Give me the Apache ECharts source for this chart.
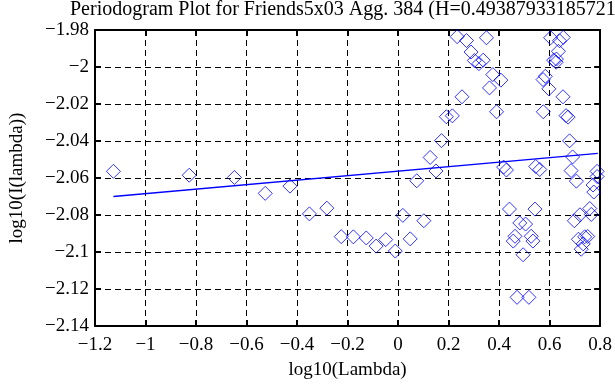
<!DOCTYPE html>
<html><head><meta charset="utf-8">
<script src="https://cdn.jsdelivr.net/npm/echarts@6/dist/echarts.min.js"></script>
<style>html,body{margin:0;padding:0;background:#fff}#c{width:615px;height:385px}</style>
</head><body><div id="c"></div>
<script>
const titleText = "Periodogram Plot for Friends5x03 Agg. 384 (H=0.493879331857214)";
const xName = "log10(Lambda)";
const yName = "log10(I(lambda))";
const xMin = -1.2, xMax = 0.8, xStep = 0.2;
const yMin = -2.14, yMax = -1.98, yStep = 0.02;

const pointX = [-1.127,-0.827,-0.648,-0.526,-0.428,-0.351,-0.282,-0.225,-0.177,-0.126,-0.087,-0.049,-0.011,0.048,0.019,0.102,0.074,0.150,0.127,0.172,0.191,0.215,0.253,0.362,0.375,0.407,0.390,0.234,0.271,0.350,0.289,0.302,0.320,0.337,0.418,0.429,0.441,0.463,0.456,0.482,0.505,0.527,0.534,0.495,0.471,0.518,0.542,0.545,0.561,0.575,0.574,0.583,0.597,0.604,0.654,0.639,0.635,0.616,0.626,0.627,0.653,0.665,0.673,0.679,0.691,0.685,0.706,0.788,0.788,0.772,0.775,0.759,0.765,0.698,0.720,0.714,0.739,0.751,0.733,0.725];
const pointY = [-2.0564,-2.0585,-2.0597,-2.0683,-2.0644,-2.0794,-2.0763,-2.0917,-2.0918,-2.0924,-2.0968,-2.0933,-2.0995,-2.0929,-2.0802,-2.0831,-2.0615,-2.0562,-2.0489,-2.0398,-2.0269,-2.0264,-2.0161,-2.0113,-2.0041,-2.0071,-2.0242,-1.9836,-1.9857,-1.9842,-1.9919,-1.9965,-1.9982,-1.9963,-2.0541,-2.0557,-2.0768,-2.0915,-2.0941,-2.0843,-2.0849,-2.0915,-2.0941,-2.1015,-2.1245,-2.1245,-2.0768,-2.0538,-2.0554,-2.0242,-2.0068,-2.0050,-2.0118,-1.9842,-1.9840,-1.9858,-1.9915,-1.9963,-1.9974,-1.9957,-2.0161,-2.0263,-2.0271,-2.0399,-2.0486,-2.0560,-2.0617,-2.0564,-2.0592,-2.0638,-2.0676,-2.0765,-2.0797,-2.0831,-2.0799,-2.0931,-2.0918,-2.0916,-2.0956,-2.0985];
const fitX = [-1.127, 0.791];
const fitY = [-2.0700, -2.0467];

const FONT = 'Liberation Serif';
const fmt = (v, d) => String(parseFloat(v.toFixed(d))).replace('-', '\u2212');
const chart = echarts.init(document.getElementById('c'), null, {renderer: 'canvas'});
const grid = {left: 91, right: 6, top: 30, bottom: 56, containLabel: false};
const axLine = {show: true, onZero: false, lineStyle: {color: '#000', width: 2}};
const tick = {show: true, inside: true, length: 6, lineStyle: {color: '#000', width: 2}};
const split = {show: true, lineStyle: {color: '#000', width: 1, type: [6, 4]}};
chart.setOption({
  animation: false,
  backgroundColor: '#fff',
  title: {text: titleText, left: 70, top: 0, padding: 0,
    textStyle: {fontFamily: FONT, fontSize: 20, fontWeight: 'normal', color: '#000'}},
  grid: grid,
  xAxis: [{
    type: 'value', min: xMin, max: xMax, interval: xStep, position: 'bottom',
    name: xName, nameLocation: 'middle', nameGap: 35,
    nameTextStyle: {fontFamily: FONT, fontSize: 19, color: '#000'},
    axisLine: axLine, axisTick: tick, splitLine: split,
    axisLabel: {show: true, margin: 10, fontFamily: FONT, fontSize: 19, color: '#000',
      showMinLabel: true, showMaxLabel: true, formatter: v => fmt(v, 1)}
  }, {
    type: 'value', min: xMin, max: xMax, interval: xStep, position: 'top',
    axisLine: axLine, axisTick: tick, splitLine: {show: false}, axisLabel: {show: false}
  }],
  yAxis: [{
    type: 'value', min: yMin, max: yMax, interval: yStep, position: 'left',
    name: yName, nameLocation: 'middle', nameGap: 68,
    nameTextStyle: {fontFamily: FONT, fontSize: 19, color: '#000'},
    axisLine: axLine, axisTick: tick, splitLine: split,
    axisLabel: {show: true, margin: 6, fontFamily: FONT, fontSize: 19, color: '#000',
      showMinLabel: true, showMaxLabel: true, formatter: v => fmt(v, 2)}
  }, {
    type: 'value', min: yMin, max: yMax, interval: yStep, position: 'right',
    axisLine: axLine, axisTick: tick, splitLine: {show: false}, axisLabel: {show: false}
  }],
  series: [{
    type: 'scatter', xAxisIndex: 0, yAxisIndex: 0,
    data: pointX.map((x, i) => [x, pointY[i]]),
    symbol: 'diamond', symbolSize: 14,
    itemStyle: {color: 'rgba(0,0,0,0)', borderColor: '#0000ff', borderWidth: 1},
    emphasis: {disabled: true}, silent: true, z: 3
  }, {
    type: 'line', xAxisIndex: 0, yAxisIndex: 0,
    data: fitX.map((x, i) => [x, fitY[i]]),
    showSymbol: false, symbol: 'none',
    lineStyle: {color: '#0000ff', width: 1.3},
    emphasis: {disabled: true}, silent: true, z: 4
  }]
});
</script>
</body></html>
